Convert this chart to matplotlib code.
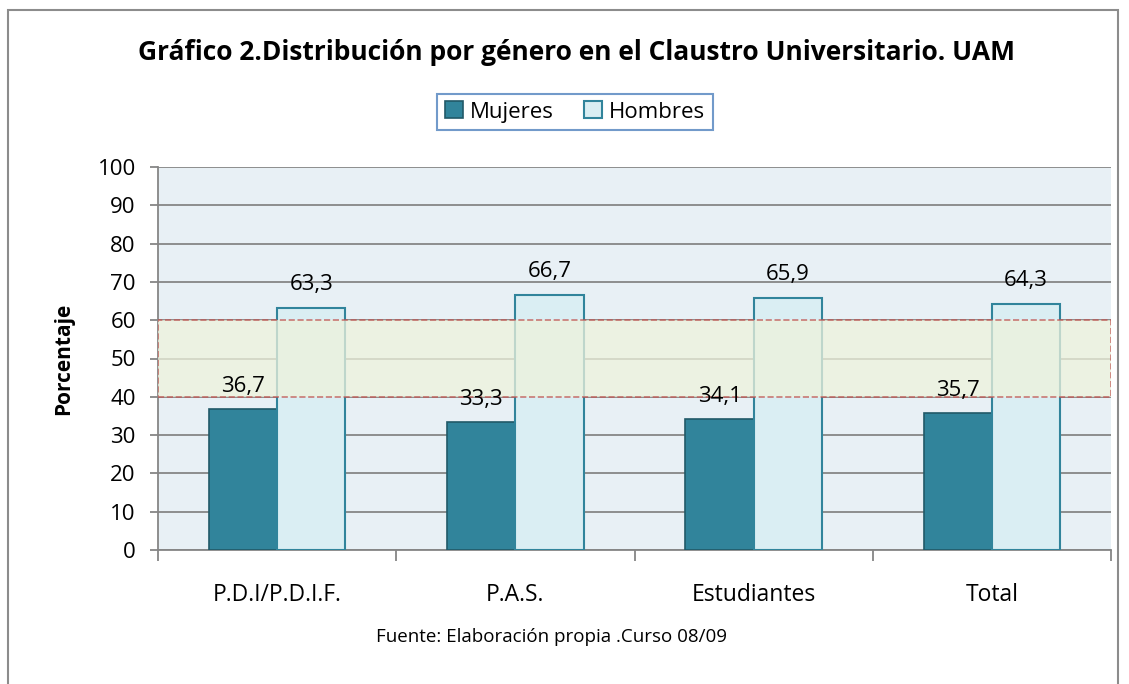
import matplotlib.pyplot as plt
import matplotlib.patches as mpatches
import numpy as np

categorias = ['P.D.I/P.D.I.F.', 'P.A.S.', 'Estudiantes', 'Total']
mujeres = [36.7, 33.3, 34.1, 35.7]
hombres = [63.3, 66.7, 65.9, 64.3]
etiquetas_m = ['36,7', '33,3', '34,1', '35,7']
etiquetas_h = ['63,3', '66,7', '65,9', '64,3']
banda = (40, 60)

plt.rcParams['font.family'] = ['Open Sans', 'DejaVu Sans']

fig = plt.figure(figsize=(11.29, 6.84), dpi=100)
ax = fig.add_axes([158 / 1129, 1 - 550 / 684, (1111 - 158) / 1129, (550 - 167) / 684])

# outer frame of the chart
fig.patches.append(mpatches.Rectangle((8 / 1129, -0.1), (1118 - 8) / 1129, 1.1 - 10 / 684,
                                      transform=fig.transFigure, fill=False,
                                      edgecolor='#8c8c8c', linewidth=1.5))

x = np.arange(len(categorias))
w = 0.286
ax.set_facecolor('#E8F0F5')
ax.bar(x - w / 2, mujeres, w, color='#31849B', edgecolor='#215968', linewidth=1.2,
       label='Mujeres', zorder=3)
ax.bar(x + w / 2, hombres, w, color='#DAEEF3', edgecolor='#31849B', linewidth=1.5,
       label='Hombres', zorder=3)

# value labels
for xi, v, t in zip(x, mujeres, etiquetas_m):
    ax.text(xi - w / 2, v + 3.2, t, ha='center', va='bottom', fontsize=16, zorder=6)
for xi, v, t in zip(x, hombres, etiquetas_h):
    ax.text(xi + w / 2, v + 3.2, t, ha='center', va='bottom', fontsize=16, zorder=6)

# highlighted band 40-60
ax.add_patch(mpatches.Rectangle((-0.5, banda[0]), len(categorias), banda[1] - banda[0],
                                facecolor='#EEF3DC', alpha=0.75, edgecolor='#C0504D',
                                linestyle='--', linewidth=1.2, zorder=4))

ax.set_ylim(0, 100)
ax.set_xlim(-0.5, len(categorias) - 0.5)
ax.set_yticks(range(0, 101, 10))
ax.yaxis.grid(True, color='#868686', linewidth=1.3, zorder=0)
ax.set_axisbelow(True)
ax.set_xticks(np.arange(-0.5, len(categorias), 1.0))
ax.set_xticklabels([])
ax.set_xticks(x, minor=True)
ax.set_xticklabels(categorias, minor=True, fontsize=16.5)
ax.tick_params(axis='x', which='minor', length=0, pad=24)
ax.tick_params(axis='x', which='major', length=8, width=1.3, color='#868686', direction='out')
ax.tick_params(axis='y', labelsize=16, length=6, width=1.3, color='#868686', pad=10)
for s in ['top', 'right']:
    ax.spines[s].set_visible(False)
for s in ['left', 'bottom']:
    ax.spines[s].set_color('#868686')
    ax.spines[s].set_linewidth(1.3)

ax.set_ylabel('Porcentaje', fontsize=15, fontweight='bold', labelpad=17)

fig.text(577 / 1129, 1 - 53 / 684, 'Gráfico 2.Distribución por género en el Claustro Universitario. UAM',
         ha='center', va='center', fontsize=19, fontweight='bold')

leg = fig.legend(loc='center', bbox_to_anchor=(575 / 1129, 1 - 112 / 684), ncol=2,
                 fontsize=16, frameon=True, fancybox=False, handlelength=0.8,
                 handleheight=0.8, handletextpad=0.3, columnspacing=1.4, borderpad=0.35,
                 borderaxespad=0)
leg.get_frame().set_edgecolor('#4F81BD')
leg.get_frame().set_linewidth(1.5)

fig.text(552 / 1129, 1 - 637 / 684, 'Fuente: Elaboración propia .Curso 08/09',
         ha='center', va='center', fontsize=13.5)

plt.savefig('out.png', dpi=100)
plt.close()
